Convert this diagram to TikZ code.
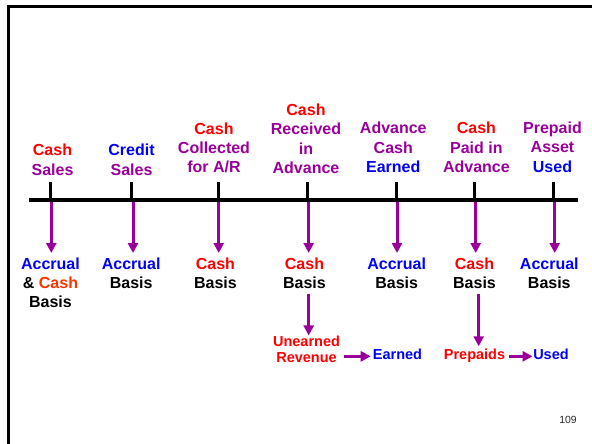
\documentclass[tikz,border=0pt]{standalone}
\usepackage{fontspec}
\setmainfont{Liberation Sans}
\usetikzlibrary{arrows.meta}
\definecolor{cred}{HTML}{FF0000}
\definecolor{corange}{HTML}{FF3300}
\definecolor{cpurple}{HTML}{990099}
\definecolor{cblue}{HTML}{0000FF}
\begin{document}
\begin{tikzpicture}[x=1pt,y=-1pt,
  toplabel/.style={anchor=south,inner sep=0pt,align=center,text=cpurple,
    font=\bfseries\fontsize{16}{19.4}\selectfont},
  basislabel/.style={anchor=north,inner sep=0pt,align=center,
    font=\bfseries\fontsize{16}{19.2}\selectfont},
  smalllabel/.style={inner sep=0pt,align=center,
    font=\bfseries\fontsize{14.5}{16}\selectfont},
  tickmark/.style={line width=3.3pt},
  flow/.style={draw=cpurple,line width=3pt,-{Triangle[width=10pt,length=10pt]}},
]
\useasboundingbox (0,0) rectangle (592,444);

% slide frame
\draw[line width=3pt,line join=miter] (592,6.5) -- (8.3,6.5) -- (8.3,444);

% time line
\coordinate (axL) at (29,200);
\coordinate (axR) at (578,200);
\draw[line width=3.5pt] (axL) -- (axR);

% tick positions on the time line
\coordinate (t1) at (50.7,200);
\coordinate (t2) at (131.7,200);
\coordinate (t3) at (218.3,200);
\coordinate (t4) at (307.3,200);
\coordinate (t5) at (396.7,200);
\coordinate (t6) at (474.3,200);
\coordinate (t7) at (553.3,200);
\foreach \i in {1,...,7} {\draw[tickmark] (t\i) -- ++(0,-18);}

% arrow starts just below the time line
\coordinate (a1) at (51.3,201.5);
\coordinate (a2) at (133,201.5);
\coordinate (a3) at (218.7,201.5);
\coordinate (a4) at (308.7,201.5);
\coordinate (a5) at (397,201.5);
\coordinate (a6) at (475.7,201.5);
\coordinate (a7) at (554.7,201.5);

% events above the line
\node[toplabel] (l1) at (52.5,175.5) {\textcolor{cred}{Cash}\\Sales};
\node[toplabel] (l2) at (131.5,175.5) {\textcolor{cblue}{Credit}\\Sales};
\node[toplabel] (l3) at (214,173.5) {\textcolor{cred}{Cash}\\Collected\\for A/R};
\node[toplabel] (l4) at (306,174) {\textcolor{cred}{Cash}\\Received\\in\\Advance};
\node[toplabel] (l5) at (393.3,173) {Advance\\Cash\\\textcolor{cblue}{Earned}};
\node[toplabel] (l6) at (476.4,173) {\textcolor{cred}{Cash}\\Paid in\\Advance};
\node[toplabel] (l7) at (552.5,172.5) {Prepaid\\Asset\\\textcolor{cblue}{Used}};

% accounting basis below the line
\node[basislabel] (b1) at (50.5,257.3) {\textcolor{cblue}{Accrual}\\\& \textcolor{corange}{Cash}\\Basis};
\node[basislabel] (b2) at (131.2,257.3) {\textcolor{cblue}{Accrual}\\Basis};
\node[basislabel] (b3) at (215.4,257.3) {\textcolor{cred}{Cash}\\Basis};
\node[basislabel] (b4) at (304.5,257.3) {\textcolor{cred}{Cash}\\Basis};
\node[basislabel] (b5) at (396.7,257.3) {\textcolor{cblue}{Accrual}\\Basis};
\node[basislabel] (b6) at (474.5,257.3) {\textcolor{cred}{Cash}\\Basis};
\node[basislabel] (b7) at (549.3,257.3) {\textcolor{cblue}{Accrual}\\Basis};

\foreach \i in {1,...,7} {\draw[flow,shorten >=4.3pt] (a\i) -- (a\i |- b\i.north);}

% follow-up accounts
\node[smalllabel,anchor=south,text=cred] (unearned) at (306.5,363) {Unearned\\Revenue};
\node[smalllabel,anchor=base,text=cblue] (earned) at (397.5,359) {Earned};
\node[smalllabel,anchor=base,text=cred] (prepaids) at (474.5,359) {Prepaids};
\node[smalllabel,anchor=base,text=cblue] (used) at (551,359) {Used};

\draw[flow,shorten <=5pt,shorten >=0.5pt] (b4.south -| a4) -- (unearned.north -| a4);
\draw[flow,shorten <=5pt,shorten >=2pt] ([xshift=3pt]b6.south -| a6) -- ([xshift=3pt]prepaids.north -| a6);
\draw[flow,shorten <=4pt,shorten >=2pt] (unearned.east |- earned.mid west) -- (earned.mid west);
\draw[flow,shorten <=4pt,shorten >=0.5pt] (prepaids.mid east) -- (used.mid west);

% page number
\node[anchor=base,inner sep=0pt,font=\fontsize{10.4}{12}\selectfont,text=black!85] (pagenum) at (568,423) {109};
\end{tikzpicture}
\end{document}
